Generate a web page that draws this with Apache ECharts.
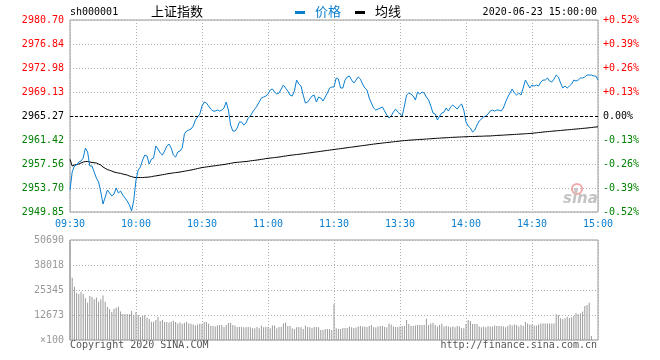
<!DOCTYPE html>
<html>
<head>
<meta charset="utf-8">
<script src="https://cdn.jsdelivr.net/npm/echarts@6/dist/echarts.min.js"></script>
<style>html,body{margin:0;padding:0;background:#fff}#c{width:660px;height:360px}</style>
</head>
<body>
<div id="c"></div>
<script>
// ---- data ----
var prevClose = 2965.27;
var tickTimes = ['09:30','10:00','10:30','11:00','11:30','13:30','14:00','14:30','15:00'];
var leftLabels = ['2949.85','2953.70','2957.56','2961.42','2965.27','2969.13','2972.98','2976.84','2980.70'];
var pctLabels = ['-0.52%','-0.39%','-0.26%','-0.13%','0.00%','+0.13%','+0.26%','+0.39%','+0.52%'];
var volLabels = ['\u00d7100','12673','25345','38018','50690'];

var price = [
2953.38,2956.27,2957.24,2957.40,2957.88,2958.04,2958.52,2960.13,2959.49,2957.24,
2957.24,2956.27,2955.31,2954.67,2953.06,2951.13,2952.26,2953.38,2952.90,2952.42,
2952.74,2953.70,2952.90,2953.22,2952.58,2952.10,2951.61,2950.97,2950.01,2951.77,
2954.99,2956.59,2957.08,2958.20,2959.00,2958.84,2957.56,2958.36,2958.52,2960.45,
2959.97,2959.33,2959.00,2959.65,2960.45,2960.77,2960.13,2959.00,2958.68,2959.49,
2959.65,2960.13,2962.38,2962.86,2963.02,2963.18,2963.66,2964.63,2965.11,2965.59,
2966.88,2967.52,2967.36,2966.88,2966.39,2966.07,2966.07,2966.23,2966.07,2966.23,
2966.56,2967.52,2966.23,2963.82,2962.86,2962.86,2963.34,2964.31,2964.31,2963.82,
2964.15,2964.95,2965.27,2965.91,2966.39,2966.88,2967.52,2968.16,2968.32,2968.48,
2968.80,2969.45,2969.61,2969.13,2968.80,2968.97,2969.61,2970.25,2969.77,2969.29,
2968.64,2968.48,2969.29,2971.05,2970.41,2970.09,2968.64,2967.36,2967.52,2968.00,
2968.48,2968.64,2967.52,2968.32,2968.16,2967.68,2968.32,2968.97,2969.77,2969.93,
2969.93,2971.38,2971.21,2969.77,2969.77,2971.05,2971.54,2971.70,2971.05,2970.57,
2971.05,2971.54,2971.21,2970.41,2969.77,2969.45,2968.16,2967.36,2966.56,2966.23,
2966.39,2966.56,2966.72,2966.07,2965.43,2964.95,2965.27,2965.91,2966.39,2965.91,
2965.59,2965.27,2966.88,2968.64,2968.97,2968.80,2968.48,2967.84,2969.13,2968.80,
2969.13,2968.97,2968.32,2967.84,2966.88,2965.75,2965.59,2964.63,2965.27,2965.75,
2965.91,2966.56,2966.07,2966.72,2967.04,2966.72,2966.39,2966.88,2967.20,2966.23,
2964.31,2963.66,2963.34,2962.70,2963.02,2963.82,2964.47,2964.79,2965.11,2965.27,
2965.59,2966.07,2966.23,2966.07,2966.23,2966.23,2966.07,2966.56,2967.52,2968.32,
2968.97,2969.61,2968.97,2968.64,2968.97,2968.64,2969.77,2971.05,2970.41,2969.77,
2970.25,2970.09,2970.25,2970.09,2970.73,2971.05,2971.05,2971.38,2970.89,2970.73,
2971.21,2971.86,2971.54,2970.57,2969.77,2970.09,2969.77,2970.09,2970.41,2971.05,
2970.89,2971.05,2971.38,2971.38,2971.54,2971.86,2971.86,2971.86,2971.70,2971.70,
2971.05];

var avgLine = [
2958.31,2957.24,2957.40,2957.48,2957.56,2957.72,2957.88,2957.96,2957.96,2957.88,
2957.80,2957.77,2957.72,2957.56,2957.40,2957.08,2956.87,2956.67,2956.55,2956.43,
2956.27,2956.19,2956.11,2956.06,2955.95,2955.87,2955.79,2955.63,2955.55,2955.42,
2955.39,2955.39,2955.39,2955.39,2955.42,2955.44,2955.47,2955.53,2955.60,2955.65,
2955.71,2955.77,2955.84,2955.90,2955.97,2956.03,2956.08,2956.13,2956.18,2956.22,
2956.27,2956.34,2956.40,2956.47,2956.53,2956.59,2956.67,2956.75,2956.83,2956.91,
2956.99,2957.04,2957.09,2957.14,2957.19,2957.24,2957.28,2957.33,2957.38,2957.43,
2957.48,2957.54,2957.61,2957.67,2957.74,2957.80,2957.83,2957.86,2957.90,2957.93,
2957.96,2958.01,2958.06,2958.11,2958.15,2958.20,2958.25,2958.31,2958.36,2958.43,
2958.48,2958.52,2958.55,2958.60,2958.64,2958.68,2958.73,2958.80,2958.84,2958.91,
2958.96,2959.00,2959.04,2959.08,2959.12,2959.16,2959.21,2959.26,2959.31,2959.36,
2959.41,2959.46,2959.50,2959.55,2959.60,2959.65,2959.70,2959.75,2959.79,2959.84,
2959.89,2959.94,2959.99,2960.03,2960.08,2960.13,2960.18,2960.23,2960.27,2960.32,
2960.37,2960.42,2960.47,2960.51,2960.56,2960.61,2960.66,2960.71,2960.76,2960.80,
2960.85,2960.88,2960.93,2960.96,2961.01,2961.04,2961.09,2961.12,2961.17,2961.20,
2961.25,2961.29,2961.32,2961.35,2961.38,2961.41,2961.43,2961.46,2961.48,2961.51,
2961.52,2961.55,2961.57,2961.60,2961.62,2961.65,2961.67,2961.70,2961.71,2961.75,
2961.76,2961.78,2961.80,2961.83,2961.85,2961.86,2961.88,2961.90,2961.91,2961.93,
2961.94,2961.96,2961.98,2961.98,2961.99,2962.01,2962.02,2962.02,2962.04,2962.06,
2962.06,2962.07,2962.10,2962.12,2962.15,2962.17,2962.18,2962.20,2962.23,2962.25,
2962.27,2962.28,2962.31,2962.33,2962.36,2962.38,2962.39,2962.43,2962.44,2962.47,
2962.49,2962.54,2962.57,2962.62,2962.65,2962.70,2962.73,2962.76,2962.79,2962.83,
2962.86,2962.89,2962.92,2962.95,2962.99,2963.02,2963.05,2963.08,2963.11,2963.15,
2963.18,2963.21,2963.24,2963.28,2963.31,2963.34,2963.39,2963.42,2963.47,2963.50,
2963.55];

var volume = [
50690,31600,27000,24000,23300,24500,23300,21100,18900,22300,
21800,20600,21500,19400,20600,22500,19400,16700,15700,14200,
15900,16400,16900,14400,13200,13200,13200,13000,14700,12700,
14200,12700,11700,12200,12700,11300,10600,9300,9300,10100,
11700,9600,10100,9100,9100,8900,9300,9800,9100,8400,
8900,8300,8800,9300,8400,8300,7900,7300,7900,8300,
8300,9100,9100,8300,7100,7100,6800,7300,7600,7600,
6600,7600,8600,8600,7600,7300,6600,6600,6600,6400,
6400,6600,6400,5900,5900,6600,5900,7300,6400,6600,
6600,5900,7400,7400,5900,6600,6600,8400,8900,7100,
7100,5900,5600,6400,6600,6400,5600,7300,6600,6400,
5900,6600,6600,6400,5100,5100,5600,5600,5600,5100,
18200,5900,5600,5600,6100,6100,6100,6900,6400,6100,
6300,6800,7100,6900,6800,6600,7100,7600,6400,6400,
6900,7100,7100,6600,6400,8400,7900,6800,6600,6600,
6800,7100,7100,10100,8100,7100,7100,7300,7600,7600,
7600,7600,10800,7600,8400,8800,7600,6800,7600,8400,
6800,7100,6900,6400,6800,6400,7100,6800,6100,5900,
8100,10100,9600,8100,8100,8100,6800,6400,6800,6400,
7100,6800,6800,7400,7100,7100,7100,6800,6400,7100,
7900,7400,7800,7600,6800,7600,7100,9100,8400,7900,
7900,7400,7400,7900,8400,8400,8400,8400,8400,8400,
8400,13000,12700,11000,10500,11000,11800,11200,11500,12200,
13500,13000,13500,14400,17200,17700,18900,2000,0,0,
0];

// minute categories: 09:30-11:30, 13:01-15:00
var times = [];
(function(){
  function p(n){return (n<10?'0':'')+n;}
  for (var m = 9*60+30; m <= 11*60+30; m++) times.push(p(Math.floor(m/60))+':'+p(m%60));
  for (var m2 = 13*60+1; m2 <= 15*60; m2++) times.push(p(Math.floor(m2/60))+':'+p(m2%60));
})();

var BLUE = '#0a7fd0', RED = '#ff0000', GREEN = '#008000';
var MONO = '"DejaVu Sans Mono", "Liberation Mono", monospace';
var CJK = '"Noto Sans CJK SC", sans-serif';
var dotted = {color: '#b0b0b0', type: [1, 2], width: 1};

var chart = echarts.init(document.getElementById('c'), null, {renderer: 'canvas'});
chart.setOption({
  animation: false,
  backgroundColor: '#fff',
  grid: [
    {left: 70, top: 20, width: 528, height: 192, show: true, borderColor: '#999', borderWidth: 1, backgroundColor: 'transparent'},
    {left: 70, top: 240, width: 528, height: 100, show: true, borderColor: '#999', borderWidth: 1, backgroundColor: 'transparent'}
  ],
  xAxis: [
    {type: 'category', gridIndex: 0, data: times, boundaryGap: false,
     axisLine: {show: false}, axisTick: {show: false},
     axisLabel: {interval: 29, color: BLUE, fontFamily: MONO, fontSize: 10, margin: 7,
       formatter: function (v) { return tickTimes.indexOf(v) >= 0 ? v : ''; }},
     splitLine: {show: true, interval: 29, lineStyle: dotted}},
    {type: 'category', gridIndex: 1, data: times, boundaryGap: false,
     axisLine: {show: false}, axisTick: {show: false}, axisLabel: {show: false},
     splitLine: {show: true, interval: 29, lineStyle: dotted}}
  ],
  yAxis: [
    {type: 'value', gridIndex: 0, min: 2949.85, max: 2980.70, show: false},
    {type: 'value', gridIndex: 0, position: 'left', min: 0, max: 8, interval: 1,
     axisLine: {show: false}, axisTick: {show: false},
     axisLabel: {fontFamily: MONO, fontSize: 10, margin: 6,
       formatter: function (v) { return leftLabels[Math.round(v)]; },
       color: function (v) { var n = Math.round(Number(v)); return n > 4 ? RED : (n < 4 ? GREEN : '#000'); }},
     splitLine: {show: true, lineStyle: dotted}},
    {type: 'value', gridIndex: 0, position: 'right', min: 0, max: 8, interval: 1,
     axisLine: {show: false}, axisTick: {show: false},
     axisLabel: {fontFamily: MONO, fontSize: 10, margin: 5,
       formatter: function (v) { return pctLabels[Math.round(v)]; },
       color: function (v) { var n = Math.round(Number(v)); return n > 4 ? RED : (n < 4 ? GREEN : '#000'); }},
     splitLine: {show: false}},
    {type: 'value', gridIndex: 1, min: 0, max: 50690, interval: 12672.5,
     axisLine: {show: false}, axisTick: {show: false},
     axisLabel: {fontFamily: MONO, fontSize: 10, margin: 6, color: '#999',
       formatter: function (v) { return volLabels[Math.round(v / 12672.5)]; }},
     splitLine: {show: true, lineStyle: dotted}}
  ],
  series: [
    {name: '均线', type: 'line', xAxisIndex: 0, yAxisIndex: 0, data: avgLine, showSymbol: false,
     lineStyle: {color: '#000', width: 1}, z: 3},
    {name: '价格', type: 'line', xAxisIndex: 0, yAxisIndex: 0, data: price, showSymbol: false,
     lineStyle: {color: BLUE, width: 1}, z: 4,
     markLine: {silent: true, symbol: ['none', 'none'], label: {show: false},
       lineStyle: {color: '#000', type: [3, 2], width: 1},
       data: [{yAxis: prevClose}]}},
    {name: '成交量', type: 'bar', xAxisIndex: 1, yAxisIndex: 3, data: volume, barWidth: 1,
     itemStyle: {color: '#999'}}
  ],
  graphic: [
    {type: 'text', left: 70, top: 7, style: {text: 'sh000001', font: '10px ' + MONO, fill: '#000'}},
    {type: 'text', left: 151, top: 5, style: {text: '上证指数', font: '13px ' + CJK, fill: '#000'}},
    {type: 'rect', shape: {x: 295, y: 11, width: 10, height: 3}, style: {fill: BLUE}},
    {type: 'text', left: 315, top: 5, style: {text: '价格', font: '13px ' + CJK, fill: BLUE}},
    {type: 'rect', shape: {x: 355, y: 11, width: 10, height: 3}, style: {fill: '#000'}},
    {type: 'text', left: 375, top: 5, style: {text: '均线', font: '13px ' + CJK, fill: '#000'}},
    {type: 'text', right: 63, top: 7, style: {text: '2020-06-23 15:00:00', font: '10px ' + MONO, fill: '#000'}},
    {type: 'text', left: 70, top: 340, style: {text: 'Copyright 2020 SINA.COM', font: '10px ' + MONO, fill: '#555'}},
    {type: 'text', right: 63, top: 340, style: {text: 'http://finance.sina.com.cn', font: '10px ' + MONO, fill: '#555'}},
    {type: 'circle', shape: {cx: 577, cy: 189, r: 5}, style: {fill: 'none', stroke: '#f2a9a9', lineWidth: 2}},
    {type: 'circle', shape: {cx: 576, cy: 190, r: 2}, style: {fill: '#c8c8c8'}},
    {type: 'text', left: 563, top: 192, style: {text: 'sina', font: 'italic bold 15px "DejaVu Sans", sans-serif', fill: '#c4c4c4'}}
  ]
});
</script>
</body>
</html>
